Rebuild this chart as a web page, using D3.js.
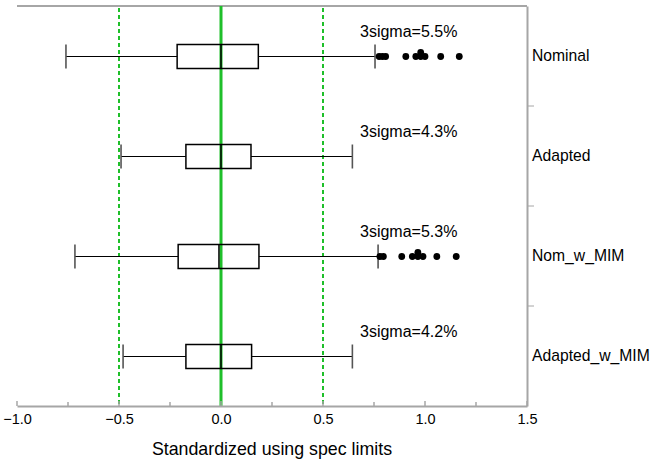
<!DOCTYPE html>
<html>
<head>
<meta charset="utf-8">
<script src="https://cdn.jsdelivr.net/npm/d3@7"></script>
<style>
  body { margin: 0; background: #fff; }
  text { font-family: "Liberation Sans", Arial, sans-serif; }
</style>
</head>
<body>
<div id="chart"></div>
<script>
"use strict";

// groups, top to bottom
const groups = ["Nominal", "Adapted", "Nom_w_MIM", "Adapted_w_MIM"];
// box summaries: [low whisker, q1, median, q3, high whisker]
const summaries = [
  [-0.76, -0.215, 0.0, 0.183, 0.755],
  [-0.49, -0.172, 0.0, 0.147, 0.644],
  [-0.716, -0.21, -0.01, 0.186, 0.77],
  [-0.48, -0.172, 0.0, 0.15, 0.644]
];
// outlier values per group, with a count for repeated points
const outliers = [
  [[0.775, 1], [0.791, 1], [0.807, 1], [0.906, 1], [0.955, 1], [0.979, 2], [1.0, 1], [1.077, 1], [1.168, 1]],
  [],
  [[0.779, 1], [0.796, 1], [0.886, 1], [0.938, 1], [0.965, 2], [0.99, 1], [1.058, 1], [1.153, 1]],
  []
];
const sigmaLabels = ["3sigma=5.5%", "3sigma=4.3%", "3sigma=5.3%", "3sigma=4.2%"];
const specLimits = [-0.5, 0.5];
const target = 0.0;
const xTicks = [-1.0, -0.5, 0.0, 0.5, 1.0, 1.5];
const xMinorTicks = [-0.75, -0.25, 0.25, 0.75, 1.25];

const width = 651, height = 461;
const margin = { left: 17, right: 124, top: 6, bottom: 55 };

const svg = d3.select("#chart").append("svg")
  .attr("width", width)
  .attr("height", height);

const x = d3.scaleLinear()
  .domain([-1.0, 1.5])
  .range([margin.left, width - margin.right]);

const y = d3.scaleBand()
  .domain(groups)
  .range([margin.top, height - margin.bottom]);

const axisColor = "#a6a6a6";
const green = "#1fbf2a";
const fontFamily = "'Liberation Sans', Arial, sans-serif";

/* top border */
svg.append("line")
  .attr("x1", x.range()[0]).attr("x2", x.range()[1])
  .attr("y1", margin.top).attr("y2", margin.top)
  .attr("stroke", axisColor).attr("stroke-width", 2);

/* spec limit lines and target */
svg.selectAll(".spec")
  .data(specLimits)
  .enter().append("line")
  .attr("class", "spec")
  .attr("x1", d => x(d)).attr("x2", d => x(d))
  .attr("y1", margin.top + 2).attr("y2", height - margin.bottom)
  .attr("stroke", green)
  .attr("stroke-width", 2)
  .attr("stroke-dasharray", "4,3");

svg.append("line")
  .attr("x1", x(target)).attr("x2", x(target))
  .attr("y1", margin.top).attr("y2", height - margin.bottom)
  .attr("stroke", green)
  .attr("stroke-width", 3);

/* boxes */
const boxH = 24;
const g = svg.selectAll(".box")
  .data(groups)
  .enter().append("g")
  .attr("class", "box")
  .attr("transform", d => "translate(0," + (Math.round(y(d) + y.bandwidth() / 2) + 0.5) + ")");

g.append("line")
  .attr("x1", (d, i) => x(summaries[i][0]))
  .attr("x2", (d, i) => x(summaries[i][1]))
  .attr("stroke", "#000").attr("stroke-width", 1.2);

g.append("line")
  .attr("x1", (d, i) => x(summaries[i][3]))
  .attr("x2", (d, i) => x(summaries[i][4]))
  .attr("stroke", "#000").attr("stroke-width", 1.2);

g.selectAll(".cap")
  .data((d, i) => [summaries[i][0], summaries[i][4]])
  .enter().append("line")
  .attr("class", "cap")
  .attr("x1", d => x(d)).attr("x2", d => x(d))
  .attr("y1", -boxH / 2).attr("y2", boxH / 2)
  .attr("stroke", "#555").attr("stroke-width", 1.6);

g.append("rect")
  .attr("x", (d, i) => x(summaries[i][1]))
  .attr("y", -boxH / 2)
  .attr("width", (d, i) => x(summaries[i][3]) - x(summaries[i][1]))
  .attr("height", boxH)
  .attr("fill", "none")
  .attr("stroke", "#000").attr("stroke-width", 1.5);

g.append("line")
  .attr("x1", (d, i) => x(summaries[i][2]))
  .attr("x2", (d, i) => x(summaries[i][2]))
  .attr("y1", -boxH / 2).attr("y2", boxH / 2)
  .attr("stroke", "#000").attr("stroke-width", 1.5);

/* outliers, repeated values stack upward */
g.selectAll(".out")
  .data((d, i) => outliers[i].flatMap(o => d3.range(o[1]).map(k => [o[0], k])))
  .enter().append("circle")
  .attr("class", "out")
  .attr("cx", d => x(d[0]))
  .attr("cy", d => -d[1] * 4)
  .attr("r", 3.4)
  .attr("fill", "#000");

/* sigma labels */
g.append("text")
  .attr("x", 360)
  .attr("y", -20)
  .attr("font-size", 16)
  .attr("fill", "#000")
  .text((d, i) => sigmaLabels[i]);

/* bottom axis */
const xAxis = svg.append("g")
  .attr("transform", "translate(0," + (height - margin.bottom) + ")")
  .call(d3.axisBottom(x).tickValues(xTicks).tickSize(0).tickPadding(8).tickFormat(d3.format(".1f")));
xAxis.select(".domain").attr("stroke", axisColor).attr("stroke-width", 2);
xAxis.selectAll("text").attr("font-size", 14.5).attr("fill", "#000")
  .attr("font-family", fontFamily);

svg.selectAll(".xtick")
  .data(xTicks.concat(xMinorTicks))
  .enter().append("line")
  .attr("class", "xtick")
  .attr("x1", d => x(d)).attr("x2", d => x(d))
  .attr("y1", height - margin.bottom)
  .attr("y2", d => height - margin.bottom - (xTicks.includes(d) ? 5 : 4))
  .attr("stroke", axisColor).attr("stroke-width", 1.5);

/* right axis with group labels */
const yAxis = svg.append("g")
  .attr("transform", "translate(" + (width - margin.right) + ",0)")
  .call(d3.axisRight(y).tickSize(0).tickPadding(5));
yAxis.select(".domain").attr("stroke", axisColor).attr("stroke-width", 2);
yAxis.selectAll("text").attr("font-size", 15.7).attr("fill", "#000")
  .attr("font-family", fontFamily);

svg.selectAll(".ytick")
  .data(groups.slice(1))
  .enter().append("line")
  .attr("class", "ytick")
  .attr("x1", width - margin.right).attr("x2", width - margin.right + 7)
  .attr("y1", d => y(d)).attr("y2", d => y(d))
  .attr("stroke", axisColor).attr("stroke-width", 1);

/* axis title */
svg.append("text")
  .attr("x", (x.range()[0] + x.range()[1]) / 2)
  .attr("y", height - 6)
  .attr("text-anchor", "middle")
  .attr("font-size", 17.8)
  .attr("fill", "#000")
  .text("Standardized using spec limits");
</script>
</body>
</html>
